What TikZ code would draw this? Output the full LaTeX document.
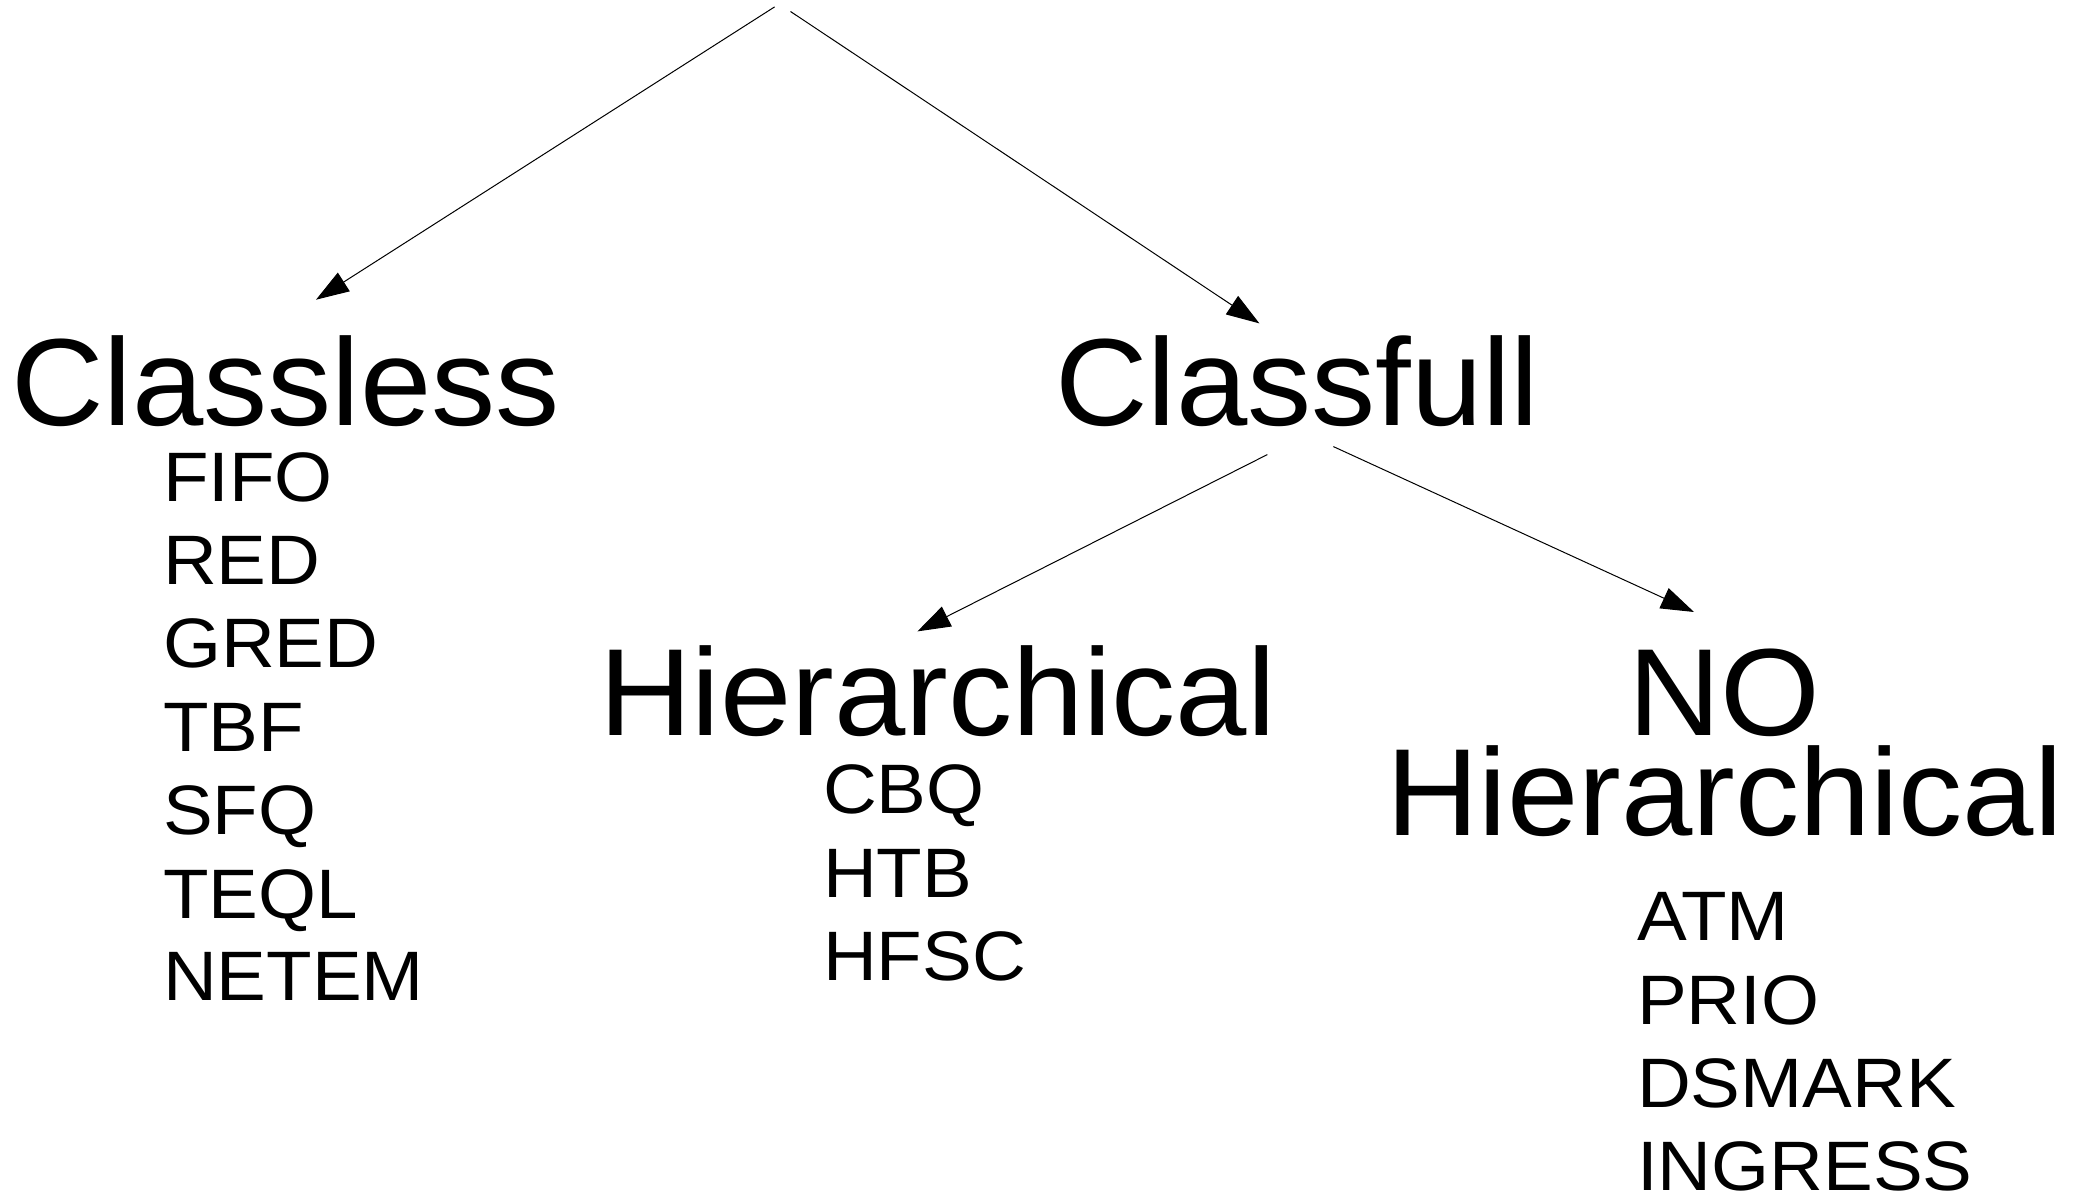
\documentclass[tikz,border=0pt]{standalone}
\usepackage{fontspec}
\setmainfont{Liberation Sans}
\usetikzlibrary{arrows.meta}
\tikzset{
  big/.style={anchor=base west, inner sep=0pt, outer sep=0pt, xscale=1.034, font=\fontsize{124}{124}\selectfont},
  item/.style={anchor=base west, inner sep=0pt, outer sep=0pt, xscale=1.065, font=\fontsize{70}{83}\selectfont},
  conn/.style={line width=1pt, -{Triangle[length=33pt,width=22pt]}}
}
\begin{document}
\begin{tikzpicture}[x=1pt,y=-1pt]
\useasboundingbox (0,0) rectangle (2073,1201);
% headings
\node[big] (classless) at (11,425.6) {Classless};
\node[big] (classfull) at (1055,425.6) {Classfull};
\node[big] (hier) at (599,735.9) {Hierarchical};
\node[big] (no) at (1628,735.9) {NO};
\node[big] (nohier) at (1386,835.4) {Hierarchical};
% classless list
\node[item] (fifo) at (163,501) {FIFO};
\node[item] (red) at (163,584.4) {RED};
\node[item] (gred) at (163,667.8) {GRED};
\node[item] (tbf) at (163,751.2) {TBF};
\node[item] (sfq) at (163,834.6) {SFQ};
\node[item] (teql) at (163,918) {TEQL};
\node[item] (netem) at (163,1000.4) {NETEM};
% hierarchical list
\node[item] (cbq) at (823,813.5) {CBQ};
\node[item] (htb) at (823,897.2) {HTB};
\node[item] (hfsc) at (823,980.3) {HFSC};
% no hierarchical list
\node[item] (atm) at (1637,940.6) {ATM};
\node[item] (prio) at (1637,1024) {PRIO};
\node[item] (dsmark) at (1637,1107.4) {DSMARK};
\node[item] (ingress) at (1637,1190.8) {INGRESS};
% connector end points
\coordinate (rootL) at (774.6,6.9);
\coordinate (rootR) at (790.5,11.5);
\coordinate (tipL) at (316,299.7);
\coordinate (tipR) at (1259.4,323.4);
\coordinate (cfL) at (1267.3,454.6);
\coordinate (cfR) at (1333.4,446.6);
\coordinate (tipH) at (917.4,631.4);
\coordinate (tipNH) at (1694,612);
% connectors
\draw[conn] (rootL) -- (tipL);
\draw[conn] (rootR) -- (tipR);
\draw[conn] (cfL) -- (tipH);
\draw[conn] (cfR) -- (tipNH);
\end{tikzpicture}
\end{document}
